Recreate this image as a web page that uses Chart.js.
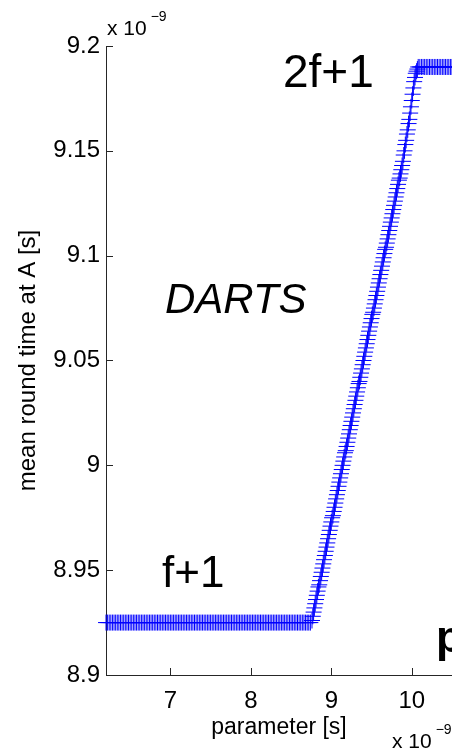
<!DOCTYPE html>
<html>
<head>
<meta charset="utf-8">
<script src="https://cdn.jsdelivr.net/npm/chart.js@4.4.1/dist/chart.umd.min.js"></script>
<style>
  html, body { margin: 0; padding: 0; background: #fff; overflow: hidden; }
  #wrap { width: 452px; height: 750px; }
</style>
</head>
<body>
<div id="wrap"><canvas id="roundChart" width="452" height="750"></canvas></div>
<script>
"use strict";

// parameter [s] (x 10^-9)
const paramValues = [
  6.2, 6.22, 6.24, 6.26, 6.28, 6.3, 6.32, 6.34, 6.36, 6.38,
  6.4, 6.42, 6.44, 6.46, 6.48, 6.5, 6.52, 6.54, 6.56, 6.58,
  6.6, 6.62, 6.64, 6.66, 6.68, 6.7, 6.72, 6.74, 6.76, 6.78,
  6.8, 6.82, 6.84, 6.86, 6.88, 6.9, 6.92, 6.94, 6.96, 6.98,
  7, 7.02, 7.04, 7.06, 7.08, 7.1, 7.12, 7.14, 7.16, 7.18,
  7.2, 7.22, 7.24, 7.26, 7.28, 7.3, 7.32, 7.34, 7.36, 7.38,
  7.4, 7.42, 7.44, 7.46, 7.48, 7.5, 7.52, 7.54, 7.56, 7.58,
  7.6, 7.62, 7.64, 7.66, 7.68, 7.7, 7.72, 7.74, 7.76, 7.78,
  7.8, 7.82, 7.84, 7.86, 7.88, 7.9, 7.92, 7.94, 7.96, 7.98,
  8, 8.02, 8.04, 8.06, 8.08, 8.1, 8.12, 8.14, 8.16, 8.18,
  8.2, 8.22, 8.24, 8.26, 8.28, 8.3, 8.32, 8.34, 8.36, 8.38,
  8.4, 8.42, 8.44, 8.46, 8.48, 8.5, 8.52, 8.54, 8.56, 8.58,
  8.6, 8.62, 8.64, 8.66, 8.68, 8.7, 8.72, 8.74,
  8.76, 8.77, 8.78, 8.79, 8.8, 8.81, 8.82, 8.83, 8.84, 8.85,
  8.86, 8.87, 8.88, 8.89, 8.9, 8.91, 8.92, 8.93, 8.94, 8.95,
  8.96, 8.97, 8.98, 8.99, 9, 9.01, 9.02, 9.03, 9.04, 9.05,
  9.06, 9.07, 9.08, 9.09, 9.1, 9.11, 9.12, 9.13, 9.14, 9.15,
  9.16, 9.17, 9.18, 9.19, 9.2, 9.21, 9.22, 9.23, 9.24, 9.25,
  9.26, 9.27, 9.28, 9.29, 9.3, 9.31, 9.32, 9.33, 9.34, 9.35,
  9.36, 9.37, 9.38, 9.39, 9.4, 9.41, 9.42, 9.43, 9.44, 9.45,
  9.46, 9.47, 9.48, 9.49, 9.5, 9.51, 9.52, 9.53, 9.54, 9.55,
  9.56, 9.57, 9.58, 9.59, 9.6, 9.61, 9.62, 9.63, 9.64, 9.65,
  9.66, 9.67, 9.68, 9.69, 9.7, 9.71, 9.72, 9.73, 9.74, 9.75,
  9.76, 9.77, 9.78, 9.79, 9.8, 9.81, 9.82, 9.83, 9.84, 9.85,
  9.86, 9.87, 9.88, 9.89, 9.9, 9.91, 9.92, 9.93, 9.94, 9.95,
  9.96, 9.97, 9.98, 9.99, 10, 10.01, 10.02, 10.03, 10.04, 10.05,
  10.06, 10.07, 10.08,
  10.1, 10.12, 10.14, 10.16, 10.18, 10.2, 10.22, 10.24, 10.26, 10.28,
  10.3, 10.32, 10.34, 10.36, 10.38, 10.4, 10.42, 10.44, 10.46, 10.48, 10.5
];

// mean round time at A [s] (x 10^-9)
const roundTimes = [
  8.925, 8.925, 8.925, 8.925, 8.925, 8.925, 8.925, 8.925, 8.925, 8.925, 8.925, 8.925, 8.925, 8.925, 8.925, 8.925,
  8.925, 8.925, 8.925, 8.925, 8.925, 8.925, 8.925, 8.925, 8.925, 8.925, 8.925, 8.925, 8.925, 8.925, 8.925, 8.925,
  8.925, 8.925, 8.925, 8.925, 8.925, 8.925, 8.925, 8.925, 8.925, 8.925, 8.925, 8.925, 8.925, 8.925, 8.925, 8.925,
  8.925, 8.925, 8.925, 8.925, 8.925, 8.925, 8.925, 8.925, 8.925, 8.925, 8.925, 8.925, 8.925, 8.925, 8.925, 8.925,
  8.925, 8.925, 8.925, 8.925, 8.925, 8.925, 8.925, 8.925, 8.925, 8.925, 8.925, 8.925, 8.925, 8.925, 8.925, 8.925,
  8.925, 8.925, 8.925, 8.925, 8.925, 8.925, 8.925, 8.925, 8.925, 8.925, 8.925, 8.925, 8.925, 8.925, 8.925, 8.925,
  8.925, 8.925, 8.925, 8.925, 8.925, 8.925, 8.925, 8.925, 8.925, 8.925, 8.925, 8.925, 8.925, 8.925, 8.925, 8.925,
  8.925, 8.925, 8.925, 8.925, 8.925, 8.925, 8.925, 8.925, 8.925, 8.925, 8.925, 8.925, 8.925, 8.925, 8.925, 8.925,
  8.926, 8.928, 8.930, 8.932, 8.934, 8.936, 8.938, 8.940, 8.942, 8.943,
  8.945, 8.947, 8.949, 8.951, 8.953, 8.955, 8.957, 8.959, 8.961, 8.963,
  8.965, 8.967, 8.969, 8.971, 8.973, 8.975, 8.976, 8.978, 8.980, 8.982,
  8.984, 8.986, 8.988, 8.990, 8.992, 8.994, 8.996, 8.998, 9.000, 9.002,
  9.004, 9.006, 9.007, 9.009, 9.011, 9.013, 9.015, 9.017, 9.019, 9.021,
  9.023, 9.025, 9.027, 9.029, 9.031, 9.033, 9.035, 9.037, 9.039, 9.040,
  9.042, 9.044, 9.046, 9.048, 9.050, 9.052, 9.054, 9.056, 9.058, 9.060,
  9.062, 9.064, 9.066, 9.068, 9.070, 9.072, 9.073, 9.075, 9.077, 9.079,
  9.081, 9.083, 9.085, 9.087, 9.089, 9.091, 9.093, 9.095, 9.097, 9.099,
  9.101, 9.103, 9.104, 9.106, 9.108, 9.110, 9.112, 9.114, 9.116, 9.118,
  9.120, 9.122, 9.124, 9.126, 9.128, 9.130, 9.132, 9.134, 9.136, 9.137,
  9.139, 9.141, 9.143, 9.145, 9.148, 9.150, 9.153, 9.155, 9.158, 9.160,
  9.163, 9.165, 9.168, 9.171, 9.174, 9.177, 9.180, 9.183, 9.185, 9.187,
  9.188, 9.189, 9.190,
  9.19, 9.19, 9.19, 9.19, 9.19, 9.19, 9.19, 9.19, 9.19, 9.19,
  9.19, 9.19, 9.19, 9.19, 9.19, 9.19, 9.19, 9.19, 9.19, 9.19, 9.19
];

const xTickValues = [7, 8, 9, 10];
const xTickLabels = ["7", "8", "9", "10"];
const yTickValues = [8.9, 8.95, 9, 9.05, 9.1, 9.15, 9.2];
const yTickLabels = ["8.9", "8.95", "9", "9.05", "9.1", "9.15", "9.2"];

const fontFamily = "'Liberation Sans', Arial, Helvetica, sans-serif";
const axisColor = "#262626";
const markerColor = "#0000ff";

// inward tick marks + text labels (MATLAB style)
const matlabDecor = {
  id: "matlabDecor",
  afterDraw(chart) {
    const ctx = chart.ctx;
    const area = chart.chartArea;
    const xs = chart.scales.x;
    const ys = chart.scales.y;
    ctx.save();
    ctx.strokeStyle = axisColor;
    ctx.lineWidth = 1;
    ctx.beginPath();
    xTickValues.forEach(function (v) {
      const px = Math.round(xs.getPixelForValue(v)) + 0.5;
      ctx.moveTo(px, area.bottom);
      ctx.lineTo(px, area.bottom - 7);
    });
    yTickValues.forEach(function (v) {
      const py = Math.round(ys.getPixelForValue(v)) + 0.5;
      ctx.moveTo(area.left, py);
      ctx.lineTo(area.left + 7, py);
    });
    ctx.stroke();

    ctx.fillStyle = "#000";
    ctx.textAlign = "left";
    ctx.textBaseline = "alphabetic";

    // exponent labels
    const drawExp = function (x, y) {
      ctx.font = "21px " + fontFamily;
      ctx.fillText("x 10", x, y);
      const w = ctx.measureText("x 10").width;
      ctx.font = "14px " + fontFamily;
      ctx.fillText("\u22129", x + w + 4, y - 14);
    };
    drawExp(107, 35);
    drawExp(392, 748);

    ctx.font = "46px " + fontFamily;
    ctx.fillText("2f+1", 283, 87);
    ctx.font = "44px " + fontFamily;
    ctx.fillText("f+1", 162, 587);
    ctx.font = "italic 42px " + fontFamily;
    ctx.fillText("DARTS", 165, 313);
    ctx.font = "bold 44px " + fontFamily;
    ctx.fillText("p", 436, 652);
    ctx.restore();
  }
};

const ctxEl = document.getElementById("roundChart");

new Chart(ctxEl, {
  type: "line",
  data: {
    datasets: [{
      label: "DARTS",
      data: paramValues.map(function (x, i) { return { x: x, y: roundTimes[i] }; }),
      showLine: false,
      pointStyle: "cross",
      pointRadius: 8,
      pointBorderWidth: 1,
      pointBorderColor: markerColor,
      pointBackgroundColor: markerColor,
      clip: false
    }]
  },
  options: {
    responsive: false,
    animation: false,
    events: [],
    layout: { autoPadding: false, padding: { top: 46, right: 0, bottom: 0, left: 0 } },
    plugins: {
      legend: { display: false },
      tooltip: { enabled: false }
    },
    scales: {
      x: {
        type: "linear",
        min: 6.2,
        max: 10.5,
        grid: { display: false, drawTicks: false, tickLength: 0 },
        border: { display: true, color: axisColor, width: 1 },
        afterBuildTicks: function (scale) {
          scale.ticks = xTickValues.map(function (v) { return { value: v }; });
        },
        afterFit: function (scale) {
          scale.height = 75;
          scale.paddingLeft = 0;
          scale.paddingRight = 0;
        },
        ticks: {
          color: "#000",
          font: { family: fontFamily, size: 24 },
          padding: 12,
          maxRotation: 0,
          autoSkip: false,
          callback: function (value, index) { return xTickLabels[index]; }
        },
        title: {
          display: true,
          text: "parameter [s]",
          color: "#000",
          font: { family: fontFamily, size: 23 },
          padding: { top: 0, bottom: 9 }
        }
      },
      y: {
        type: "linear",
        min: 8.9,
        max: 9.2,
        grid: { display: false, drawTicks: false, tickLength: 0 },
        border: { display: true, color: axisColor, width: 1 },
        afterBuildTicks: function (scale) {
          scale.ticks = yTickValues.map(function (v) { return { value: v }; });
        },
        afterFit: function (scale) {
          scale.width = 106;
          scale.paddingTop = 0;
          scale.paddingBottom = 0;
        },
        ticks: {
          color: "#000",
          font: { family: fontFamily, size: 24 },
          padding: 6,
          autoSkip: false,
          callback: function (value, index) { return yTickLabels[index]; }
        },
        title: {
          display: true,
          text: "mean round time at A [s]",
          color: "#000",
          font: { family: fontFamily, size: 24 },
          padding: { top: 14, bottom: 0 }
        }
      }
    }
  },
  plugins: [matlabDecor]
});
</script>
</body>
</html>
